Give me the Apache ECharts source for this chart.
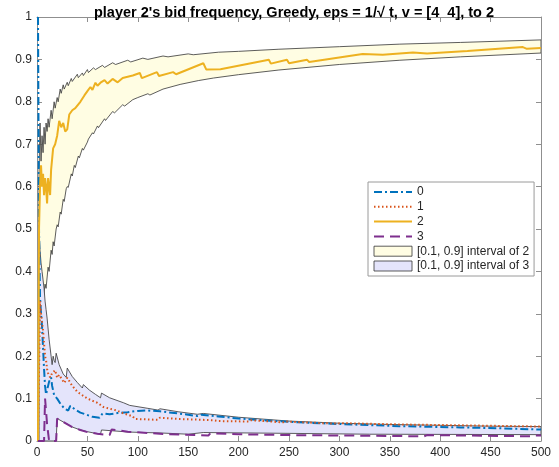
<!DOCTYPE html>
<html><head><meta charset="utf-8">
<script src="https://cdn.jsdelivr.net/npm/echarts@6/dist/echarts.min.js"></script>
<style>html,body{margin:0;padding:0;background:#fff}#c{width:559px;height:467px}</style>
</head><body><div id="c"></div>
<script>
// ---- data ----
const titleText = "player 2's bid frequency, Greedy, eps = 1/\u221A t, v = [4  4], to 2";
const xTicks = [0, 50, 100, 150, 200, 250, 300, 350, 400, 450, 500];
const yTicks = [0, 0.1, 0.2, 0.3, 0.4, 0.5, 0.6, 0.7, 0.8, 0.9, 1];
const seriesNames = ['0', '1', '2', '3'];
const bandNames = ['[0.1, 0.9] interval of 2', '[0.1, 0.9] interval of 3'];

const bid0T = [1,2,3,4,5,6,7,8,9,10,12,14,15,17,20,24,28,31,33,38,43,48,55,62,65,72,80,90,100,110,122,140,159,163,180,200,230,260,300,360,420,460,500];
const bid0V = [1,0.5,0.34,0.3,0.27,0.22,0.17,0.13,0.11,0.12,0.14,0.15,0.13,0.108,0.1,0.085,0.075,0.072,0.083,0.074,0.067,0.063,0.057,0.055,0.065,0.063,0.066,0.068,0.071,0.072,0.07,0.065,0.059,0.062,0.058,0.053,0.048,0.044,0.04,0.035,0.032,0.03,0.027];

const bid1T = [1,2,3,4,5,6,7,8,9,10,11,13,15,18,20,22,27,30,35,40,50,60,66,79,85,95,97,120,122,140,175,180,210,212,244,246,294,304,360,420,500];
const bid1V = [0,0,0.33,0.3,0.28,0.26,0.23,0.2,0.19,0.17,0.16,0.15,0.16,0.167,0.149,0.156,0.137,0.149,0.13,0.116,0.1,0.09,0.08,0.072,0.066,0.058,0.052,0.05,0.055,0.052,0.049,0.047,0.046,0.049,0.044,0.046,0.041,0.042,0.039,0.037,0.034];

const bid2T = [1,2,3,4,5,6,7,8,9,10,11,12,13,14,16,18,20,22,24,26,28,30,32,35,38,43,47,50,53,55,58,60,63,67,70,75,80,85,95,102,104,119,121,135,138,165,168,182,230,232,248,250,268,270,323,343,373,387,427,482,486,500];
const bid2V = [0,0.5,0.6,0.65,0.6,0.63,0.58,0.62,0.6,0.56,0.62,0.6,0.58,0.64,0.69,0.7,0.72,0.755,0.74,0.75,0.73,0.735,0.77,0.78,0.785,0.8,0.815,0.825,0.835,0.828,0.845,0.838,0.845,0.851,0.843,0.854,0.846,0.856,0.862,0.868,0.856,0.87,0.861,0.87,0.865,0.891,0.876,0.877,0.899,0.89,0.899,0.891,0.899,0.894,0.913,0.911,0.916,0.914,0.92,0.929,0.925,0.927];

const bid3T = [1,7,8,9,10,11,12,19,20,26,35,43,50,60,72,74,90,110,130,170,172,200,250,300,350,384,387,420,460,490,493,500];
const bid3V = [0,0,0.1,0.07,0.04,0.02,0,0,0.053,0.045,0.033,0.026,0.021,0.017,0.014,0.027,0.022,0.019,0.016,0.013,0.018,0.016,0.014,0.013,0.012,0.011,0.014,0.013,0.012,0.011,0.013,0.013];

// interval of 2 (upper / lower quantile)
const band2UpT = [2,3,4,5,6,7,8,9,10,11,12,14,15,17,18,20,21,23,24,26,27,30,31,34,35,40,41,45,46,50,51,56,58,65,67,75,78,90,93,105,110,125,130,150,155,180,200,240,300,360,420,500];
const band2UpV = [0.63,0.75,0.66,0.72,0.68,0.74,0.7,0.75,0.73,0.76,0.74,0.78,0.76,0.8,0.785,0.81,0.8,0.83,0.82,0.84,0.83,0.846,0.838,0.855,0.848,0.865,0.857,0.868,0.862,0.876,0.869,0.88,0.876,0.886,0.881,0.892,0.888,0.898,0.894,0.903,0.9,0.908,0.906,0.913,0.911,0.917,0.919,0.924,0.93,0.936,0.94,0.946];
const band2LoT = [2,3,4,5,6,8,9,11,12,14,15,16,17,19,20,21,23,24,26,27,29,30,31,34,35,37,38,41,42,45,46,50,51,55,56,60,61,67,68,75,77,85,87,95,100,110,112,125,142,160,175,200,240,300,360,420,500];
const band2LoV = [0.3,0.32,0.3,0.34,0.33,0.37,0.36,0.41,0.4,0.45,0.44,0.47,0.46,0.5,0.51,0.505,0.54,0.535,0.57,0.565,0.595,0.6,0.598,0.63,0.625,0.65,0.645,0.672,0.668,0.69,0.686,0.705,0.712,0.727,0.724,0.743,0.739,0.76,0.756,0.777,0.774,0.793,0.79,0.805,0.81,0.819,0.816,0.83,0.841,0.85,0.856,0.864,0.875,0.888,0.898,0.906,0.915];

// interval of 3
const band3UpT = [2,3,4,5,6,7,8,9,10,12,14,15,16,17,18,19,22,26,29,30,35,40,45,46,52,58,63,64,72,86,92,110,120,122,140,159,165,200,250,300,350,400,450,500];
const band3UpV = [0.5,0.45,0.42,0.4,0.38,0.36,0.33,0.31,0.29,0.24,0.2,0.18,0.2,0.19,0.185,0.207,0.18,0.158,0.15,0.172,0.152,0.138,0.125,0.133,0.12,0.11,0.102,0.113,0.102,0.09,0.084,0.077,0.073,0.076,0.069,0.063,0.065,0.056,0.047,0.042,0.039,0.037,0.035,0.034];
const band3LoT = [2,19,20,26,35,43,50,60,63,64,75,92,122,150,165,250,330,500];
const band3LoV = [0,0,0.053,0.045,0.033,0.026,0.022,0.017,0.016,0.026,0.024,0.021,0.019,0.016,0.02,0.018,0.016,0.015];

// ---- build ----
const zip = (t, v) => t.map((x, i) => [x, v[i]]);
const axisGray = '#8f8f8f';
const textGray = '#262626';
const colors = ['#0072BD', '#D95319', '#EDB120', '#7E2F8E'];
const dashes = [[8, 3, 2, 3], [1.5, 2.5], 'solid', [10, 6]];
const fills = ['#FFFDE3', '#E4E4FB'];

function lineSeries(i, t, v) {
  return {
    type: 'line', name: seriesNames[i], data: zip(t, v),
    showSymbol: false, symbol: 'none', z: 5, animation: false,
    lineStyle: { color: colors[i], width: 2, type: dashes[i] },
    itemStyle: { color: colors[i] }
  };
}
function bandSeries(j, uT, uV, lT, lV) {
  return {
    type: 'custom', name: bandNames[j], coordinateSystem: 'cartesian2d',
    data: [[0, 0]], encode: { x: 0, y: 1 }, z: 2, silent: true, animation: false, clip: true,
    itemStyle: { color: fills[j], borderColor: '#333', borderWidth: 0.8 },
    renderItem: function (params, api) {
      const pts = [];
      for (let i = 0; i < uT.length; i++) pts.push(api.coord([uT[i], uV[i]]));
      for (let i = lT.length - 1; i >= 0; i--) pts.push(api.coord([lT[i], lV[i]]));
      return { type: 'polygon', shape: { points: pts }, style: { fill: fills[j], stroke: '#333', lineWidth: 0.8 } };
    }
  };
}

const chart = echarts.init(document.getElementById('c'), null, { renderer: 'canvas' });
const font = 'Liberation Sans, Arial, Helvetica, sans-serif';
const axisCommon = (pos, show) => ({
  type: 'value', position: pos, min: 0,
  axisLine: { show: true, onZero: false, lineStyle: { color: axisGray, width: 1 } },
  axisTick: { show: true, inside: true, length: 5, lineStyle: { color: axisGray } },
  splitLine: { show: false },
  axisLabel: { show: show, color: textGray, fontSize: 12, fontFamily: font, margin: 6 }
});
const lineLegend = i => ({ name: seriesNames[i], itemStyle: { opacity: 0 } });
chart.setOption({
  animation: false,
  backgroundColor: '#fff',
  title: {
    text: titleText, left: 289, textAlign: 'center', top: 0,
    textStyle: { fontSize: 14.5, fontWeight: 'bold', color: '#000', fontFamily: font }
  },
  grid: { left: 37, right: 18, top: 17, bottom: 26, containLabel: false },
  xAxis: [
    Object.assign(axisCommon('bottom', true), { max: 500, interval: 50 }),
    Object.assign(axisCommon('top', false), { max: 500, interval: 50 })
  ],
  yAxis: [
    Object.assign(axisCommon('left', true), { max: 1, interval: 0.1, axisLabel: { show: true, color: textGray, fontSize: 12, fontFamily: font, margin: 5, formatter: v => String(+v.toFixed(1)) } }),
    Object.assign(axisCommon('right', false), { max: 1, interval: 0.1 })
  ],
  legend: {
    orient: 'vertical', left: 368, top: 182,
    padding: [4, 5, 4, 5], itemGap: 2.8, itemWidth: 38, itemHeight: 10,
    backgroundColor: '#fff', borderColor: '#9a9a9a', borderWidth: 1, borderRadius: 0,
    textStyle: { fontSize: 12, color: textGray, fontFamily: font, lineHeight: 12 },
    data: [
      lineLegend(0), lineLegend(1), lineLegend(2), lineLegend(3),
      { name: bandNames[0], icon: 'rect', itemStyle: { color: fills[0], borderColor: '#333', borderWidth: 0.8 } },
      { name: bandNames[1], icon: 'rect', itemStyle: { color: fills[1], borderColor: '#333', borderWidth: 0.8 } }
    ]
  },
  series: [
    bandSeries(0, band2UpT, band2UpV, band2LoT, band2LoV),
    bandSeries(1, band3UpT, band3UpV, band3LoT, band3LoV),
    lineSeries(0, bid0T, bid0V),
    lineSeries(1, bid1T, bid1V),
    lineSeries(2, bid2T, bid2V),
    lineSeries(3, bid3T, bid3V)
  ]
});
</script></body></html>
